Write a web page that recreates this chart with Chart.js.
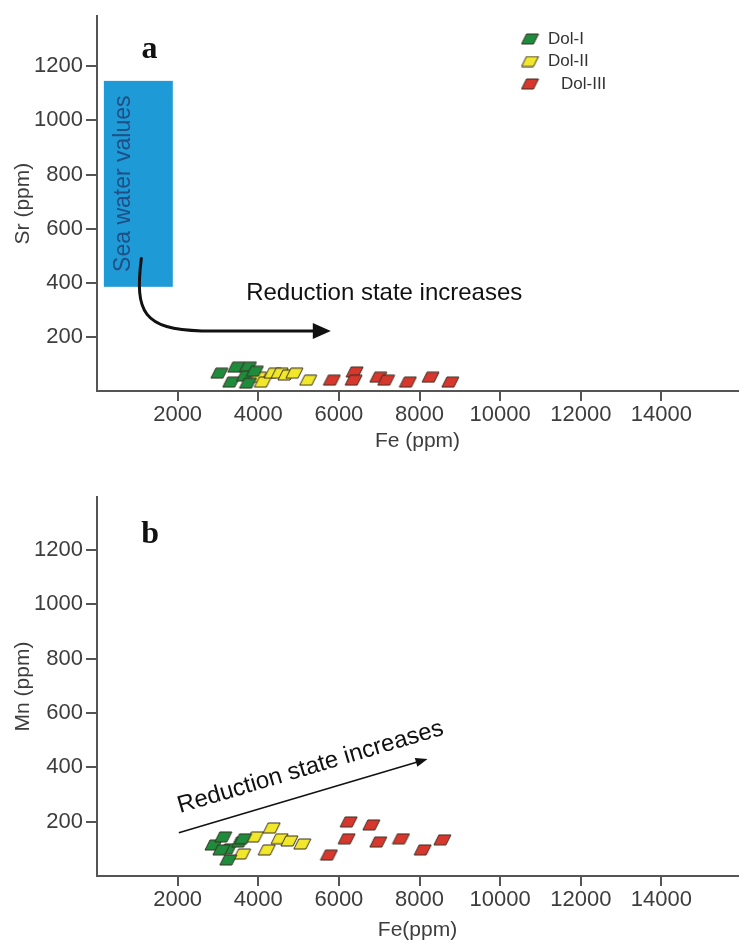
<!DOCTYPE html>
<html lang="en">
<head>
<meta charset="UTF-8">
<title>Sr and Mn versus Fe in dolomites</title>
<script src="https://cdn.jsdelivr.net/npm/chart.js@4"></script>
<style>
  body { margin: 0; background: #fff; }
  #wrap { position: relative; width: 747px; height: 945px; }
  .box { position: absolute; left: 0; width: 747px; }
  #boxA { top: 0; height: 470px; }
  #boxB { top: 470px; height: 475px; }
</style>
</head>
<body>
<div id="wrap">
  <div class="box" id="boxA"><canvas id="chartA"></canvas></div>
  <div class="box" id="boxB"><canvas id="chartB"></canvas></div>
</div>
<script>
// ticks and names
const feTicks = [2000, 4000, 6000, 8000, 10000, 12000, 14000];
const ppmTicks = [200, 400, 600, 800, 1000, 1200];
const seriesNames = ['Dol-I', 'Dol-II', 'Dol-III'];
const seriesColors = ['#1e8c3c', '#f1e82b', '#d7372c'];

// panel a: Sr (ppm) vs Fe (ppm)
const srFeDolI  = [3035, 3452, 3745, 3329, 3672, 3745, 3917];
const srDolI    = [66, 88, 88, 33, 55, 29, 73];
const srFeDolII = [3990, 4113, 4357, 4529, 4700, 4896, 5239];
const srDolII   = [51, 33, 66, 66, 59, 66, 40];
const srFeDolIII = [5826, 6389, 6365, 6977, 7173, 7711, 8274, 8764];
const srDolIII   = [40, 70, 40, 51, 40, 33, 51, 33];

// panel b: Mn (ppm) vs Fe (ppm)
const mnFeDolI  = [2889, 3133, 3256, 3550, 3623, 3256, 3084];
const mnDolI    = [114, 144, 100, 125, 137, 59, 96];
const mnFeDolII = [3917, 4333, 4529, 4210, 4773, 5092, 3599];
const mnDolII   = [144, 177, 137, 96, 129, 118, 81];
const mnFeDolIII = [6242, 6805, 6193, 5753, 6977, 7540, 8078, 8568];
const mnDolIII   = [199, 188, 137, 77, 125, 137, 96, 133];

const SANS = '"Liberation Sans", Arial, sans-serif';
const SERIF = '"Liberation Serif", "Times New Roman", serif';

// parallelogram marker
function makeMarker(fill) {
  const c = document.createElement('canvas');
  c.width = 19; c.height = 12;
  const g = c.getContext('2d');
  g.beginPath();
  g.moveTo(6, 1); g.lineTo(18, 1); g.lineTo(13, 11); g.lineTo(1, 11);
  g.closePath();
  g.fillStyle = fill; g.fill();
  g.strokeStyle = '#3b2f22'; g.lineWidth = 1; g.stroke();
  return c;
}
const markers = seriesColors.map(makeMarker);

function pts(xs, ys) { return xs.map((v, i) => ({ x: v, y: ys[i] })); }

function ds(i, xs, ys) {
  return {
    label: seriesNames[i],
    data: pts(xs, ys),
    pointStyle: markers[i],
    pointRadius: 8,
    showLine: false
  };
}

function arrowHead(ctx, x0, y0, x1, y1, len, half) {
  const a = Math.atan2(y1 - y0, x1 - x0);
  ctx.beginPath();
  ctx.moveTo(x1, y1);
  ctx.lineTo(x1 - len * Math.cos(a) + half * Math.sin(a), y1 - len * Math.sin(a) - half * Math.cos(a));
  ctx.lineTo(x1 - len * Math.cos(a) - half * Math.sin(a), y1 - len * Math.sin(a) + half * Math.cos(a));
  ctx.closePath();
  ctx.fill();
}

const notes = {
  id: 'notes',
  beforeDatasetsDraw(chart, args, o) {
    const { ctx, scales: { x, y } } = chart;
    if (!o.box) return;
    const b = o.box;
    const l = x.getPixelForValue(b.x0), r = x.getPixelForValue(b.x1);
    const t = y.getPixelForValue(b.y1), bt = y.getPixelForValue(b.y0);
    ctx.save();
    ctx.fillStyle = b.color;
    ctx.fillRect(l, t, r - l, bt - t);
    ctx.translate(x.getPixelForValue(b.tx), y.getPixelForValue(b.ty));
    ctx.rotate(-Math.PI / 2);
    ctx.font = b.font;
    ctx.fillStyle = b.textColor;
    ctx.textAlign = 'center';
    ctx.textBaseline = 'middle';
    ctx.fillText(b.text, 0, 0);
    ctx.restore();
  },
  afterDatasetsDraw(chart, args, o) {
    const { ctx, scales: { x, y } } = chart;
    const px = p => [x.getPixelForValue(p[0]), y.getPixelForValue(p[1])];
    ctx.save();
    ctx.strokeStyle = '#111';
    ctx.fillStyle = '#111';
    if (o.curve) {
      const c = o.curve;
      const s = px(c.from), c1 = px(c.c1), c2 = px(c.c2), m = px(c.to), e = px(c.end);
      ctx.lineWidth = 3;
      ctx.lineCap = 'round';
      ctx.beginPath();
      ctx.moveTo(s[0], s[1]);
      ctx.bezierCurveTo(c1[0], c1[1], c2[0], c2[1], m[0], m[1]);
      ctx.lineTo(e[0] - 14, e[1]);
      ctx.stroke();
      arrowHead(ctx, m[0], m[1], e[0], e[1], 18, 8);
    }
    if (o.line) {
      const s = px(o.line.from), e = px(o.line.to);
      const a = Math.atan2(e[1] - s[1], e[0] - s[0]);
      ctx.lineWidth = 1.5;
      ctx.beginPath();
      ctx.moveTo(s[0], s[1]);
      ctx.lineTo(e[0] - 8 * Math.cos(a), e[1] - 8 * Math.sin(a));
      ctx.stroke();
      arrowHead(ctx, s[0], s[1], e[0], e[1], 12, 4.5);
    }
    (o.texts || []).forEach(t => {
      const p = px(t.at);
      ctx.save();
      ctx.translate(p[0], p[1]);
      if (t.alongLine && o.line) {
        const s = px(o.line.from), e = px(o.line.to);
        ctx.rotate(Math.atan2(e[1] - s[1], e[0] - s[0]));
      }
      ctx.font = t.font;
      ctx.fillStyle = t.color || '#111';
      ctx.textAlign = t.align || 'left';
      ctx.textBaseline = t.baseline || 'alphabetic';
      ctx.fillText(t.text, 0, 0);
      ctx.restore();
    });
    if (o.legend) {
      const L = o.legend;
      ctx.font = L.font;
      ctx.fillStyle = '#333';
      ctx.textBaseline = 'middle';
      ctx.textAlign = 'left';
      chart.data.datasets.forEach((d, i) => {
        const yy = L.top + i * L.gap;
        const mk = d.pointStyle;
        ctx.drawImage(mk, L.markX - mk.width / 2, yy - mk.height / 2);
        ctx.fillText(d.label, L.textX[i], yy);
      });
    }
    ctx.restore();
  }
};

function scalesFor(yTitle, xTitle, yMax, xAxisH) {
  const axisCol = '#555';
  const tickFont = { family: SANS, size: 22 };
  return {
    x: {
      type: 'linear', min: 0, max: 15900,
      afterBuildTicks: s => { s.ticks = feTicks.map(v => ({ value: v })); },
      afterFit: s => { s.height = xAxisH; },
      grid: { drawOnChartArea: false, drawTicks: true, tickLength: 10, color: axisCol, lineWidth: 2 },
      border: { display: true, color: axisCol, width: 2 },
      ticks: { font: tickFont, color: '#3d3d3d', padding: 1, maxRotation: 0, autoSkip: false,
               callback: v => String(v) },
      title: { display: true, text: xTitle, font: { family: SANS, size: 21 }, color: '#3d3d3d', padding: { top: 0, bottom: 2 } }
    },
    y: {
      type: 'linear', min: 0, max: yMax,
      afterBuildTicks: s => { s.ticks = ppmTicks.map(v => ({ value: v })); },
      afterFit: s => { s.width = 97; },
      grid: { drawOnChartArea: false, drawTicks: true, tickLength: 11, color: axisCol, lineWidth: 2 },
      border: { display: true, color: axisCol, width: 2 },
      ticks: { font: tickFont, color: '#3d3d3d', padding: 3, autoSkip: false,
               callback: v => String(v) },
      title: { display: true, text: yTitle, font: { family: SANS, size: 21 }, color: '#3d3d3d', padding: { top: 11, bottom: 0 } }
    }
  };
}

new Chart(document.getElementById('chartA'), {
  type: 'scatter',
  data: {
    datasets: [ds(0, srFeDolI, srDolI), ds(1, srFeDolII, srDolII), ds(2, srFeDolIII, srDolIII)]
  },
  options: {
    responsive: true, maintainAspectRatio: false, animation: false,
    layout: { padding: { top: 13, right: 0, left: 0, bottom: 14 } },
    scales: scalesFor('Sr (ppm)', 'Fe (ppm)', 1385, 65),
    plugins: {
      legend: { display: false },
      tooltip: { enabled: false },
      notes: {
        box: { x0: 170, x1: 1880, y0: 385, y1: 1146, color: '#1e9ad6',
               text: 'Sea water values', tx: 661, ty: 766, textColor: '#1f4f86', font: '23px ' + SANS },
        curve: { from: [1100, 490], c1: [930, 290], c2: [1150, 228], to: [2600, 222], end: [5800, 222] },
        texts: [
          { text: 'Reduction state increases', at: [3700, 359], font: '24px ' + SANS, baseline: 'middle' },
          { text: 'a', at: [1300, 1230], font: 'bold 32px ' + SERIF, align: 'center' }
        ],
        legend: { top: 39, gap: 22.5, markX: 530, textX: [548, 548, 561], font: '17px ' + SANS }
      }
    }
  },
  plugins: [notes]
});

new Chart(document.getElementById('chartB'), {
  type: 'scatter',
  data: {
    datasets: [ds(0, mnFeDolI, mnDolI), ds(1, mnFeDolII, mnDolII), ds(2, mnFeDolIII, mnDolIII)]
  },
  options: {
    responsive: true, maintainAspectRatio: false, animation: false,
    layout: { padding: { top: 27, right: 0, left: 0, bottom: 0 } },
    scales: scalesFor('Mn (ppm)', 'Fe(ppm)', 1395, 69),
    plugins: {
      legend: { display: false },
      tooltip: { enabled: false },
      notes: {
        line: { from: [2030, 159], to: [8200, 431] },
        texts: [
          { text: 'Reduction state increases', at: [2060, 232], font: '24px ' + SANS, alongLine: true },
          { text: 'b', at: [1320, 1225], font: 'bold 32px ' + SERIF, align: 'center' }
        ]
      }
    }
  },
  plugins: [notes]
});
</script>
</body>
</html>
